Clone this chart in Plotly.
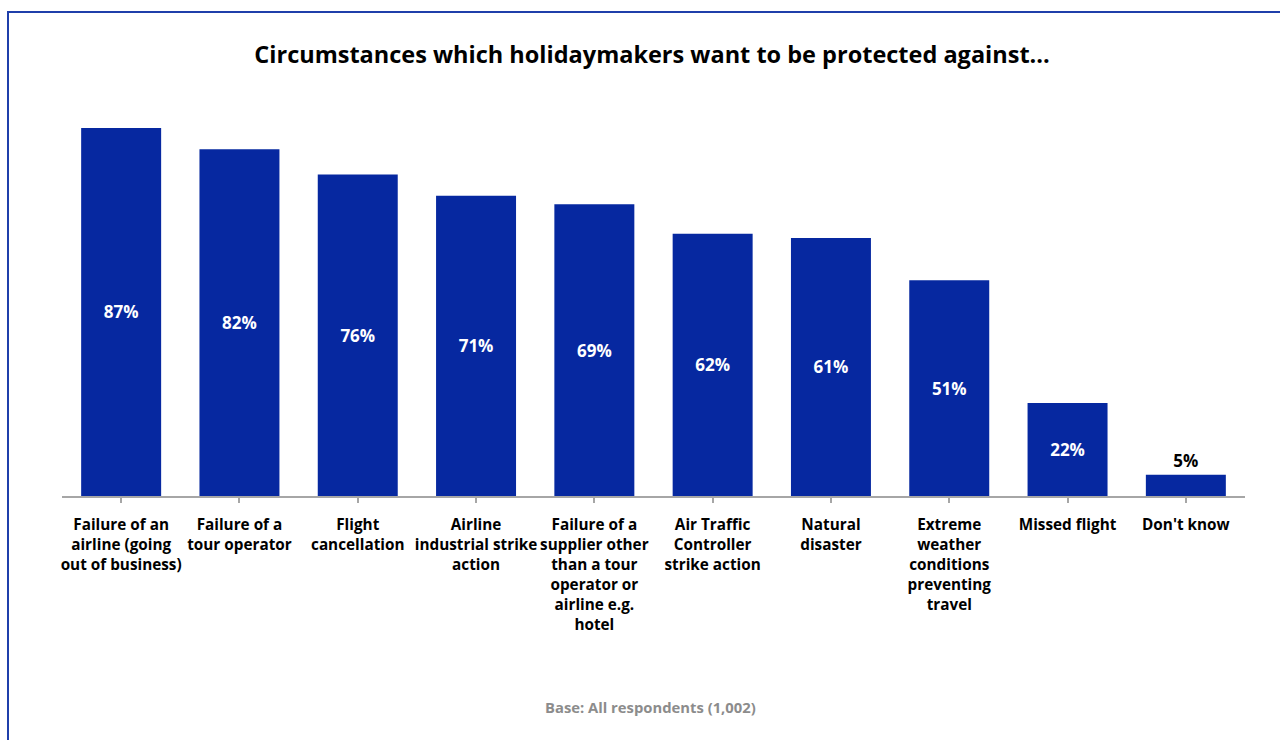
import plotly.graph_objects as go

categories = [
    "Failure of an<br>airline (going<br>out of business)",
    "Failure of a<br>tour operator",
    "Flight<br>cancellation",
    "Airline<br>industrial strike<br>action",
    "Failure of a<br>supplier other<br>than a tour<br>operator or<br>airline e.g.<br>hotel",
    "Air Traffic<br>Controller<br>strike action",
    "Natural<br>disaster",
    "Extreme<br>weather<br>conditions<br>preventing<br>travel",
    "Missed flight",
    "Don't know",
]
values = [87, 82, 76, 71, 69, 62, 61, 51, 22, 5]
positions = ["inside"] * 9 + ["outside"]

W, H = 1280, 740
L, R = 62, 1245
T, B = 73, 496

FONT = "Open Sans"
BAR = "#0628A0"

fig = go.Figure(go.Bar(
    x=list(range(len(values))),
    y=values,
    text=[f"{v}%" for v in values],
    textposition=positions,
    insidetextanchor="middle",
    constraintext="none",
    insidetextfont=dict(family=FONT, size=17, color="white", weight="bold"),
    outsidetextfont=dict(family=FONT, size=17, color="black", weight="bold"),
    marker=dict(color=BAR, line=dict(width=0)),
    width=0.676,
    cliponaxis=False,
    hoverinfo="skip",
))

pw, ph = R - L, B - T
fig.update_layout(
    width=W, height=H,
    margin=dict(l=L, r=W - R, t=T, b=H - B, autoexpand=False),
    paper_bgcolor="white", plot_bgcolor="white",
    showlegend=False,
    title=dict(
        text="<b>Circumstances which holidaymakers want to be protected against...</b>",
        x=652 / W, xanchor="center", y=1 - 55 / H, yanchor="middle",
        font=dict(family=FONT, size=23.5, color="black"),
    ),
    xaxis=dict(
        tickmode="array", tickvals=list(range(len(values))), ticktext=categories,
        range=[-0.5, len(values) - 0.5],
        tickson="boundaries", ticks="outside", ticklen=5, tickcolor="#A6A6A6", tickwidth=1.5,
        showline=True, linecolor="#A6A6A6", linewidth=1.5,
        showgrid=False, zeroline=False,
        tickfont=dict(family=FONT, size=15.3, color="black", weight="bold"),
        ticklabelstandoff=9,
        tickangle=0, automargin=False,
    ),
    yaxis=dict(range=[0, 100], visible=False, showgrid=False, zeroline=False),
    annotations=[dict(
        text="<b>Base: All respondents (1,002)</b>",
        xref="paper", yref="paper",
        x=(650 - L) / pw, y=(B - 707) / ph,
        xanchor="center", yanchor="middle", showarrow=False,
        font=dict(family=FONT, size=14.8, color="#8C8C8C"),
    )],
    shapes=[dict(
        type="rect", xref="paper", yref="paper",
        x0=(8 - L) / pw, x1=(1300 - L) / pw,
        y0=(B - 760) / ph, y1=(B - 12) / ph,
        line=dict(color="#1F3FAA", width=2), fillcolor="rgba(0,0,0,0)", layer="below",
    )],
)

fig.write_html("out.html")
